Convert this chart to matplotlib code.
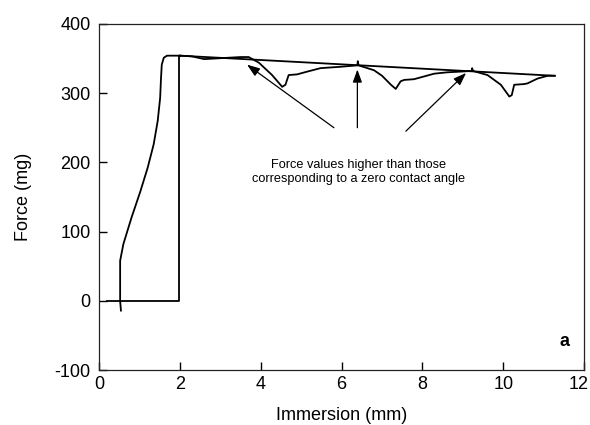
import matplotlib.pyplot as plt
import matplotlib.transforms as mtransforms

plt.rcParams['font.family'] = ['Liberation Sans', 'DejaVu Sans']
plt.rcParams['axes.unicode_minus'] = False

# advancing (immersion) branch
adv_x = [0.54, 0.52, 0.52, 0.60, 0.80, 1.02, 1.20, 1.35, 1.45, 1.51, 1.53, 1.55, 1.60, 1.68, 1.85, 2.0]
adv_f = [-14, 0, 58, 82, 120, 158, 192, 226, 260, 293, 320, 341, 351, 354, 354, 354]

# rectangle (start / return at 2 mm)
rect_x = [0.2, 1.98, 1.98, 2.0]
rect_f = [0, 0, 354, 354]

# wiggly receding trace
wig_x = [2.0, 2.3, 2.6, 2.9, 3.2, 3.5, 3.70, 3.95, 4.28, 4.53, 4.61, 4.69, 4.90, 5.15, 5.48,
         5.98, 6.39, 6.40, 6.42, 6.80, 7.0, 7.22, 7.34, 7.46, 7.55, 7.79, 8.04, 8.29, 8.62,
         8.95, 9.22, 9.23, 9.25, 9.61, 9.94, 10.15, 10.21, 10.27, 10.52, 10.6, 10.85, 11.1, 11.28]
wig_f = [354, 353, 349, 350, 351, 352, 352, 344, 326, 309, 312, 326, 327, 331, 336,
         338, 340, 346, 340, 333, 325, 312, 306, 317, 319, 320, 324, 328, 330,
         331, 332, 336, 332, 326, 312, 295, 297, 312, 313, 314, 321, 325, 325]

# zero contact angle line
line_x = [2.0, 11.26]
line_f = [354, 325]

arrow_tails = [(5.81, 250), (6.39, 250), (7.59, 245)]
arrow_heads = [(3.66, 341), (6.39, 334), (9.08, 329)]

fig = plt.figure(figsize=(5.9, 4.25), dpi=100)
ax = fig.add_axes([0.168, 0.129, 0.822, 0.815])

ax.plot(adv_x, adv_f, color='black', lw=1.3)
ax.plot(rect_x, rect_f, color='black', lw=1.3)
ax.plot(wig_x, wig_f, color='black', lw=1.3)
ax.plot(line_x, line_f, color='black', lw=1.3)

for t, h in zip(arrow_tails, arrow_heads):
    ax.annotate('', xy=h, xytext=t,
                arrowprops=dict(arrowstyle='-|>,head_length=0.55,head_width=0.2', color='black',
                                lw=0.9, mutation_scale=14, shrinkA=0, shrinkB=0))

ax.text(6.42, 186, 'Force values higher than those\ncorresponding to a zero contact angle',
        ha='center', va='center', fontsize=9.2, linespacing=1.2)
ax.text(11.65, -58, 'a', ha='right', va='center', fontsize=13, fontweight='bold')

ax.set_xlim(0, 12)
ax.set_ylim(-100, 400)
ax.set_xticks(range(0, 13, 2))
ax.set_yticks(range(-100, 401, 100))
for s in ax.spines.values():
    s.set_linewidth(0.9)
    s.set_color('#222222')
ax.tick_params(direction='in', length=6, width=1.0, labelsize=13)
ax.tick_params(axis='x', pad=4)
ax.tick_params(axis='y', pad=6)
ax.set_xlabel('Immersion (mm)', fontsize=13, labelpad=10)
ax.set_ylabel('Force (mg)', fontsize=13, labelpad=16)

# keep the last x label inside the figure
last = ax.get_xticklabels()[-1]
last.set_transform(last.get_transform() + mtransforms.ScaledTranslation(-4 / 72, 0, fig.dpi_scale_trans))

fig.savefig('out.png', dpi=100)
